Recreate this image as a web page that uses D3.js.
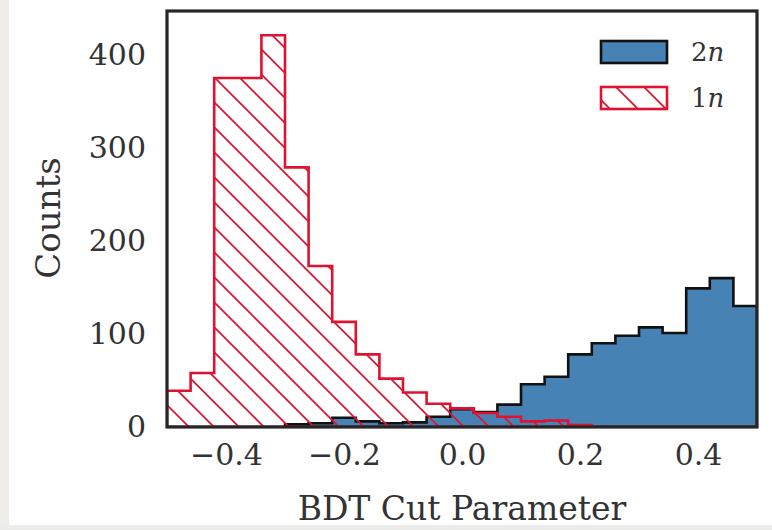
<!DOCTYPE html>
<html>
<head>
<meta charset="utf-8">
<script src="https://cdn.jsdelivr.net/npm/d3@7"></script>
<style>
  body { margin: 0; background: #fff; }
  svg { display: block; }
  text { font-family: "DejaVu Serif", serif; fill: #333; }
</style>
</head>
<body>
<div id="chart"></div>
<script>
// histogram bins: 25 bins of width 0.04 from -0.5 to 0.5
var binStart = -0.5, binWidth = 0.04;
var twoN = [0, 0, 0, 0, 0, 3, 4, 10, 6, 4, 5, 11, 19, 16, 24, 46, 54, 78, 90, 98, 107, 101, 149, 160, 130];
var oneN = [39, 58, 375, 375, 421, 279, 173, 113, 78, 52, 37, 25, 20, 15, 11, 6, 7, 2, 0, 0, 0, 0, 0, 0, 0];
var xTicks = [-0.4, -0.2, 0.0, 0.2, 0.4];
var yTicks = [0, 100, 200, 300, 400];
var seriesNames = ["2n", "1n"];

var W = 772, H = 530;
var margin = { top: 11, right: 15, bottom: 103, left: 167 };

var svg = d3.select("#chart").append("svg")
    .attr("width", W)
    .attr("height", H);

// faint page edges like the scan
svg.append("rect").attr("x", 0).attr("y", 0).attr("width", 9).attr("height", H).attr("fill", "#efeee6");
svg.append("rect").attr("x", 0).attr("y", 525).attr("width", W).attr("height", 5).attr("fill", "#ececea");

var x = d3.scaleLinear()
    .domain([-0.5, 0.5])
    .range([margin.left, W - margin.right]);
var y = d3.scaleLinear()
    .domain([0, 447])
    .range([H - margin.bottom, margin.top]);

var defs = svg.append("defs");
defs.append("clipPath").attr("id", "plotClip")
    .append("rect")
    .attr("x", x.range()[0]).attr("y", y.range()[1])
    .attr("width", x.range()[1] - x.range()[0])
    .attr("height", y.range()[0] - y.range()[1]);

var red = "#e0122f";
var hatch = defs.append("pattern")
    .attr("id", "hatch")
    .attr("patternUnits", "userSpaceOnUse")
    .attr("width", 25).attr("height", 25)
    .attr("x", 0).attr("y", 13);
hatch.append("path")
    .attr("d", "M-5,-5 L30,30 M-30,-5 L5,30 M20,-5 L55,30")
    .attr("stroke", red).attr("stroke-width", 1.7);

function stepPath(counts) {
    var p = "M" + x(binStart) + "," + y(0);
    counts.forEach(function(c, i) {
        var x0 = x(binStart + i * binWidth), x1 = x(binStart + (i + 1) * binWidth);
        p += "L" + x0 + "," + y(c) + "L" + x1 + "," + y(c);
    });
    p += "L" + x(binStart + counts.length * binWidth) + "," + y(0) + "Z";
    return p;
}

var plot = svg.append("g").attr("clip-path", "url(#plotClip)");

// 2n: filled steps with black edge
plot.append("path")
    .attr("d", stepPath(twoN))
    .attr("fill", "#4682b4")
    .attr("stroke", "#111")
    .attr("stroke-width", 2.6)
    .attr("stroke-linejoin", "miter");

// 1n: hatched steps with red edge
plot.append("path")
    .attr("d", stepPath(oneN))
    .attr("fill", "url(#hatch)")
    .attr("stroke", red)
    .attr("stroke-width", 2.6)
    .attr("stroke-linejoin", "miter");

// frame
svg.append("rect")
    .attr("x", x.range()[0]).attr("y", y.range()[1])
    .attr("width", x.range()[1] - x.range()[0])
    .attr("height", y.range()[0] - y.range()[1])
    .attr("fill", "none")
    .attr("stroke", "#262626")
    .attr("stroke-width", 3.2);

// axes (tick labels only)
var xAxis = svg.append("g")
    .attr("transform", "translate(0," + (H - margin.bottom) + ")")
    .call(d3.axisBottom(x).tickValues(xTicks).tickSize(0).tickPadding(17)
        .tickFormat(function(d) { return d3.format(".1f")(d).replace("-", "\u2212"); }));
var yAxis = svg.append("g")
    .attr("transform", "translate(" + margin.left + ",0)")
    .call(d3.axisLeft(y).tickValues(yTicks).tickSize(0).tickPadding(21));
[xAxis, yAxis].forEach(function(a) {
    a.select(".domain").remove();
    a.selectAll("text")
        .attr("fill", "#333")
        .style("font-family", "DejaVu Serif, serif")
        .style("font-size", "30px");
});

svg.append("text")
    .attr("x", (x.range()[0] + x.range()[1]) / 2)
    .attr("y", 520)
    .attr("text-anchor", "middle")
    .style("font-size", "33px")
    .text("BDT Cut Parameter");

svg.append("text")
    .attr("transform", "translate(60," + 218 + ") rotate(-90)")
    .attr("text-anchor", "middle")
    .style("font-size", "34px")
    .text("Counts");

// legend
var legHatch = defs.append("pattern")
    .attr("id", "legHatch")
    .attr("patternUnits", "userSpaceOnUse")
    .attr("width", 28).attr("height", 28)
    .attr("x", 605).attr("y", 86);
legHatch.append("path")
    .attr("d", "M-2,-2 L30,30 M-30,-2 L2,30 M26,-2 L58,30")
    .attr("stroke", red).attr("stroke-width", 1.7);

var legend = svg.append("g").attr("transform", "translate(601,41)");
var items = legend.selectAll("g").data(seriesNames).enter().append("g")
    .attr("transform", function(d, i) { return "translate(0," + i * 46 + ")"; });
items.append("rect")
    .attr("width", 66).attr("height", 22)
    .attr("fill", function(d, i) { return i == 0 ? "#4682b4" : "url(#legHatch)"; })
    .attr("stroke", function(d, i) { return i == 0 ? "#111" : red; })
    .attr("stroke-width", 2.6);
var lab = items.append("text")
    .attr("x", 90).attr("y", 20)
    .style("font-size", "26px");
lab.append("tspan").text(function(d) { return d[0]; });
lab.append("tspan").style("font-style", "italic").text(function(d) { return d.slice(1); });
</script>
</body>
</html>
